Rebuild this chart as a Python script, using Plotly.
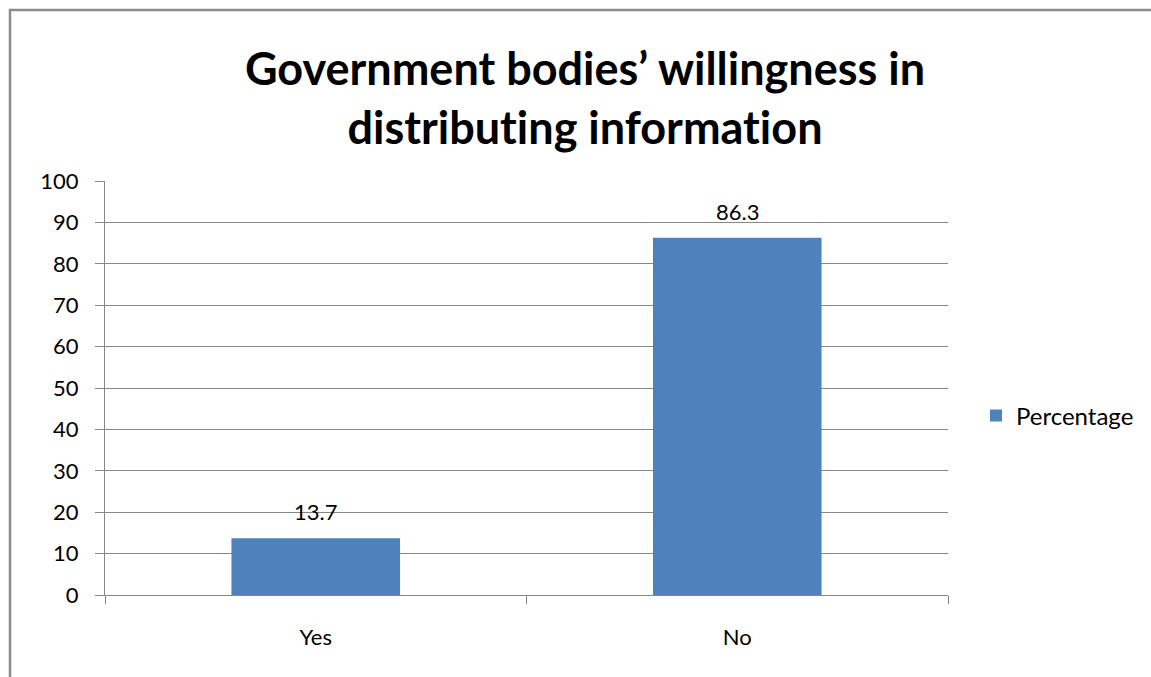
import plotly.graph_objects as go

# Survey results
categories = ["Yes", "No"]
percentages = [13.7, 86.3]
series_name = "Percentage"
y_ticks = [0, 10, 20, 30, 40, 50, 60, 70, 80, 90, 100]

W, H = 1151, 677
L, R, T, B = 105, 948, 181, 595
bar_color = "#4F81BD"
grid_color = "#868686"
font_family = "Lato, 'Open Sans', sans-serif"
ZWNJ = "\u200c"  # keeps the "ti" pair from turning into a ligature

title_text = ("<b>Government bodies’ willingness in<br>"
              f"distribut{ZWNJ}ing informat{ZWNJ}ion</b>")

fig = go.Figure()
fig.add_trace(go.Bar(
    x=categories,
    y=percentages,
    name=series_name,
    marker=dict(color=bar_color, line=dict(width=0)),
    width=0.4,
    showlegend=True,
))

# value labels above the bars
for c, v in zip(categories, percentages):
    fig.add_annotation(x=c, y=v, text=f"{v}", showarrow=False,
                       yanchor="bottom", yshift=11,
                       font=dict(size=22, color="#000", family=font_family))

pw, ph = R - L, B - T
# outer chart border
fig.add_shape(type="rect", xref="paper", yref="paper",
              x0=(10 - L) / pw, x1=(W + 20 - L) / pw,
              y0=(B - (H + 20)) / ph, y1=(B - 10) / ph,
              line=dict(color="#8c8c8c", width=2.5), fillcolor="rgba(0,0,0,0)",
              layer="below")

fig.update_layout(
    width=W, height=H,
    margin=dict(l=L, r=W - R, t=T, b=H - B, pad=0),
    paper_bgcolor="white", plot_bgcolor="white",
    bargap=0.6,
    title=dict(text=title_text,
               x=585 / W, xanchor="center", y=1 - 85 / H, yanchor="middle",
               font=dict(size=45, color="#000", family=font_family)),
    legend=dict(x=(976 - L) / pw, y=(B - 416) / ph, xanchor="left", yanchor="middle",
                font=dict(size=24, color="#000", family=font_family),
                itemwidth=30, bgcolor="rgba(0,0,0,0)"),
    xaxis=dict(showgrid=False, showline=True, linecolor=grid_color, linewidth=1.3,
               ticks="outside", tickson="boundaries", ticklen=8, tickcolor=grid_color,
               ticklabelstandoff=22,
               tickfont=dict(size=22, color="#000", family=font_family)),
    yaxis=dict(range=[0, 100], tickvals=y_ticks, showgrid=True, gridcolor=grid_color,
               gridwidth=1.3, showline=True, linecolor=grid_color, linewidth=1.3,
               ticks="outside", ticklen=9, tickcolor=grid_color, zeroline=False,
               ticklabelstandoff=12,
               tickfont=dict(size=22, color="#000", family=font_family)),
)

fig.write_html("out.html")
